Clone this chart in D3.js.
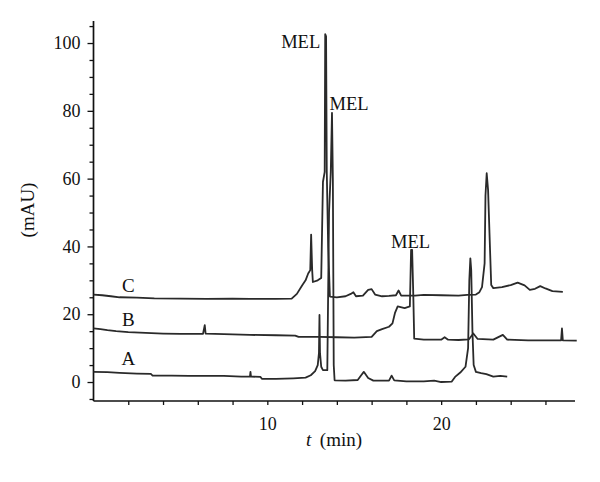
<!DOCTYPE html>
<html><head><meta charset="utf-8">
<script src="https://cdn.jsdelivr.net/npm/d3@7"></script>
<style>
html,body{margin:0;padding:0;background:#fff;}
svg{display:block;font-family:"Liberation Serif","DejaVu Serif",serif;}
</style></head>
<body>
<svg id="chart" width="600" height="482"></svg>
<script>
// ---- data (time in min, absorbance in mAU) ----
const traceA = [[0,3.0],[0.8,2.9],[1.5,2.7],[2.5,2.5],[3.3,2.4],[3.4,1.9],[4.5,1.9],[5.5,1.8],[6.5,1.8],[7.5,1.8],[8.5,1.6],[9.0,1.6],[9.03,3.0],[9.06,1.6],[9.6,1.5],[9.7,0.9],[10.5,0.9],[11.5,1.1],[12.2,1.3],[12.5,2.0],[12.75,3.2],[12.9,5.0],[12.97,8.5],[13.0,19.8],[13.03,8.5],[13.1,4.5],[13.2,3.5],[13.45,3.5],[13.55,50],[13.65,62],[13.72,79.4],[13.77,60],[13.82,5],[13.87,0.5],[14.5,0.4],[15.2,0.6],[15.4,2.0],[15.55,3.0],[15.8,1.2],[16.1,0.4],[17.0,0.4],[17.15,1.9],[17.3,0.5],[18.0,0.2],[19.0,0.2],[19.6,0.4],[20.0,0.0],[20.6,0.1],[20.8,1.5],[21.1,2.8],[21.4,4.5],[21.55,10],[21.62,30],[21.68,36.5],[21.73,33],[21.8,15],[21.87,5],[22.0,3.0],[22.3,2.6],[22.6,2.3],[23.0,1.6],[23.4,1.8],[23.8,1.6]];
const traceB = [[0,15.8],[0.4,15.6],[0.8,15.3],[1.3,15.0],[2.0,14.7],[3.0,14.5],[4.0,14.3],[5.0,14.2],[6.3,14.2],[6.4,16.8],[6.45,14.3],[7.5,14.1],[9.0,13.9],[10.5,13.8],[11.6,13.7],[11.8,13.3],[13.0,13.3],[14.0,13.2],[15.0,13.1],[16.0,13.3],[16.3,15.0],[16.6,15.6],[17.0,16.3],[17.2,17.3],[17.35,20.5],[17.5,22.3],[17.9,21.8],[18.2,22.3],[18.27,39],[18.33,39],[18.4,25],[18.45,12.8],[19.0,12.5],[20.0,12.5],[20.2,13.2],[20.4,12.5],[21.0,12.4],[21.6,12.6],[21.85,14.3],[22.1,12.7],[23.0,12.5],[23.55,13.9],[23.8,12.5],[25.0,12.3],[26.9,12.3],[26.95,15.8],[27.0,12.3],[27.8,12.2]];
const traceC = [[0,25.8],[0.5,25.6],[1.0,25.3],[1.5,25.0],[2.5,24.9],[3.5,24.7],[5.0,24.6],[6.5,24.5],[8.0,24.6],[9.0,24.5],[10.5,24.5],[11.4,24.6],[11.7,26.0],[12.0,28.5],[12.2,30.0],[12.35,32.0],[12.47,33.0],[12.52,43.5],[12.58,33],[12.62,29.5],[12.9,30.0],[13.1,30.7],[13.2,59],[13.3,62],[13.33,102.6],[13.38,102],[13.42,62],[13.5,40],[13.6,25.2],[14.0,25.0],[14.5,25.3],[14.8,26.0],[14.95,26.5],[15.1,25.3],[15.5,25.5],[15.8,27.2],[16.0,27.4],[16.2,25.8],[16.6,25.3],[17.0,25.4],[17.4,25.6],[17.55,27.0],[17.7,25.5],[18.5,25.5],[19.0,25.7],[20.0,25.6],[21.0,25.5],[21.5,25.7],[22.0,25.8],[22.2,26.5],[22.35,28.0],[22.5,35],[22.55,55],[22.62,61.6],[22.7,56.6],[22.78,44],[22.88,28.6],[23.0,27.7],[23.5,28.0],[24.0,28.6],[24.4,29.3],[24.8,28.5],[25.1,27.2],[25.4,27.5],[25.7,28.3],[26.0,27.6],[26.4,26.8],[27.0,26.6]];
const traceLabels = ["A","B","C"];
const traceLabelValues = [5.0, 16.5, 26.5];
const melLabels = [{text:"MEL", t:13.33, v:102.6},{text:"MEL", t:13.72, v:79.4},{text:"MEL", t:18.3, v:39}];
const xTickLabels = [10, 20];
const yTickLabels = [0, 20, 40, 60, 80, 100];

// ---- scales ----
const svg = d3.select("#chart");
const x = d3.scaleLinear().domain([0, 27.7]).range([93.5, 575]);
const y = d3.scaleLinear().domain([-5.6, 106.5]).range([401, 21]);

const g = svg.append("g");

// y axis
const yMinor = d3.range(-5, 106, 5);
const yAxis = d3.axisLeft(y).tickValues(yMinor)
  .tickFormat(d => yTickLabels.includes(d) ? d : "")
  .tickSize(4).tickPadding(7);
const ya = g.append("g").attr("transform", `translate(${x(0)},0)`).call(yAxis);
ya.select(".domain").attr("d", `M0,${y(106.5)}V${y(-5.6)}`).attr("stroke","#111").attr("stroke-width",1.7);
ya.selectAll(".tick line").attr("stroke","#111").attr("stroke-width",1.3)
  .attr("x2", d => yTickLabels.includes(d) ? -6 : -4);
ya.selectAll(".tick text").attr("font-size", 18).attr("fill","#111")
  .attr("font-family","Liberation Serif").attr("x", -13);

// x axis
const xMinor = d3.range(2, 27, 2);
const xAxis = d3.axisBottom(x).tickValues(xMinor)
  .tickFormat(d => xTickLabels.includes(d) ? d : "")
  .tickSize(4).tickPadding(12);
const xa = g.append("g").attr("transform", `translate(0,${y(-5.6)})`).call(xAxis);
xa.select(".domain").attr("d", `M${x(0)},0H${x(27.7)}`).attr("stroke","#111").attr("stroke-width",1.7);
xa.selectAll(".tick line").attr("stroke","#111").attr("stroke-width",1.3);
xa.selectAll(".tick text").attr("font-size", 18).attr("fill","#111").attr("font-family","Liberation Serif");

// traces
const line = d3.line().x(d => x(d[0])).y(d => y(d[1]));
[traceA, traceB, traceC].forEach(tr => {
  g.append("path").datum(tr).attr("d", line)
    .attr("fill","none").attr("stroke","#2a2a2a").attr("stroke-width",1.8)
    .attr("stroke-linejoin","round");
});

// trace labels
traceLabels.forEach((lab, i) => {
  g.append("text").attr("x", x(2.0)).attr("y", y(traceLabelValues[i]))
    .attr("text-anchor","middle").attr("font-size", 19).attr("fill","#111").text(lab);
});

// MEL labels
g.append("text").attr("x", x(melLabels[0].t) - 5).attr("y", y(melLabels[0].v) + 14).attr("text-anchor","end")
  .attr("font-size", 18.5).attr("fill","#111").text(melLabels[0].text);
g.append("text").attr("x", x(melLabels[1].t) - 2.5).attr("y", y(melLabels[1].v) - 3).attr("text-anchor","start")
  .attr("font-size", 18.5).attr("fill","#111").text(melLabels[1].text);
g.append("text").attr("x", x(melLabels[2].t) - 1).attr("y", y(melLabels[2].v) - 2).attr("text-anchor","middle")
  .attr("font-size", 18.5).attr("fill","#111").text(melLabels[2].text);

// axis titles
svg.append("text").attr("transform","translate(34,210) rotate(-90)")
  .attr("text-anchor","middle").attr("font-size",19).attr("fill","#111").text("(mAU)");
const xt = svg.append("text").attr("x", 334).attr("y", 446)
  .attr("text-anchor","middle").attr("font-size",19).attr("fill","#111");
xt.append("tspan").attr("font-style","italic").text("t");
xt.append("tspan").text("\u2009 (min)");
</script>
</body></html>
